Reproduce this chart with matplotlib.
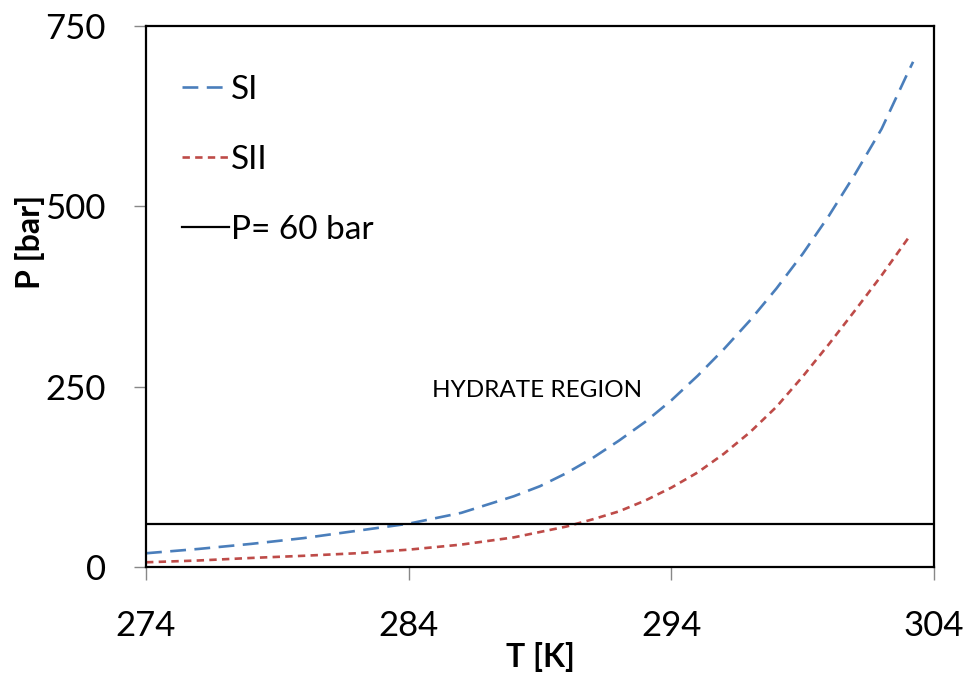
import numpy as np
import matplotlib
matplotlib.use("Agg")
import matplotlib.pyplot as plt

plt.rcParams['font.family'] = ['Lato', 'DejaVu Sans']

# values
T_si = [274, 276, 278, 280, 282, 284, 286, 288, 289, 290, 291, 292, 293, 294,
        295, 296, 297, 298, 299, 300, 301, 302, 303, 303.2]
P_si = [19, 25, 32, 40, 50, 60, 75, 98, 112, 130, 151, 175, 201, 231,
        265, 302, 342, 386, 434, 487, 545, 607, 685, 700]
T_sii = [274, 276, 278, 280, 282, 284, 286, 288, 290, 291, 292, 293, 294,
         295, 296, 297, 298, 299, 300, 301, 302, 303.0]
P_sii = [6.5, 9, 12.5, 15.5, 19, 24, 31, 41, 56, 66, 77, 92, 110,
         131, 157, 187, 222, 264, 309, 356, 404, 455]
P_limit = 60
T_range = [274, 304]

fig = plt.figure(figsize=(9.67, 6.86), dpi=100)
ax = fig.add_axes([0.151, 0.1735, 0.815, 0.789])

ax.plot(T_si, P_si, color="#4a7ebb", lw=1.9, dashes=(6, 3.2), label="SI")
ax.plot(T_sii, P_sii, color="#be4b48", lw=1.9, dashes=(2.8, 2.0), label="SII")
ax.plot(T_range, [P_limit, P_limit], color="black", lw=1.6, label="P= 60 bar")

ax.text(288.9, 245, "HYDRATE REGION", fontsize=17.5, ha="center", va="center")

ax.set_xlim(274, 304)
ax.set_ylim(0, 750)
ax.set_xticks([274, 284, 294, 304])
ax.set_yticks([0, 250, 500, 750])
ax.tick_params(axis="both", direction="out", length=9, width=1, color="#888888",
               labelsize=25)
ax.tick_params(axis="x", pad=22)
ax.tick_params(axis="y", pad=20)
for s in ax.spines.values():
    s.set_linewidth(1.6)
    s.set_color("black")

ax.set_xlabel("T [K]", fontsize=23, fontweight="bold")
ax.set_ylabel("P [bar]", fontsize=23, fontweight="bold")
ax.xaxis.set_label_coords(0.5, -0.138)
ax.yaxis.set_label_coords(-0.128, 0.60)

leg = ax.legend(loc="upper left", bbox_to_anchor=(0.008, 0.965), frameon=False,
                fontsize=24, handlelength=1.4, handletextpad=0.05,
                labelspacing=1.2)

fig.savefig("out.png", dpi=100)
